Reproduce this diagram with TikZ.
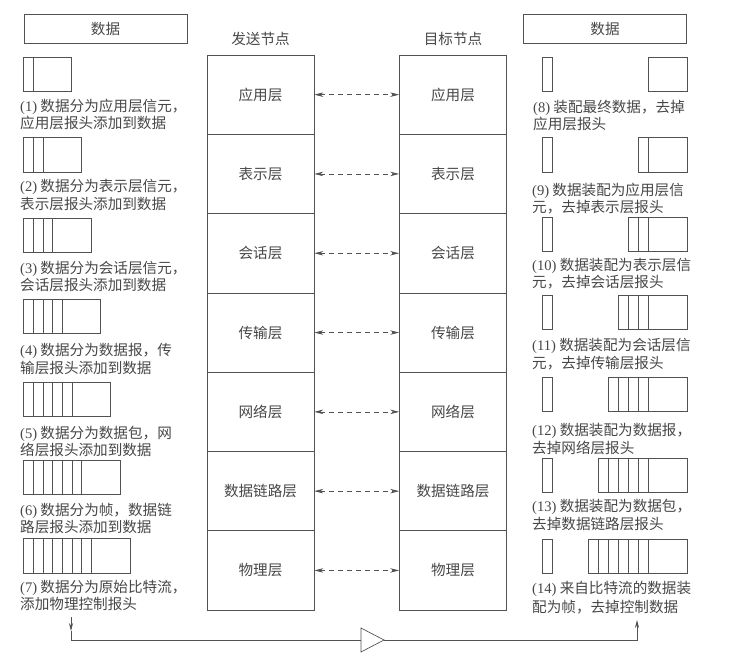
\documentclass[tikz,border=0pt]{standalone}
\usepackage{fontspec}
\setmainfont{Liberation Serif}
\newfontfamily\cjk{Noto Sans CJK SC}
\usetikzlibrary{arrows.meta}
\newcommand\stepno[1]{{\rmfamily #1}}
\colorlet{lncol}{black!68}
\colorlet{txtcol}{black!72}
\newcommand\capfont{\cjk\fontsize{14.6}{17}\selectfont}
% left frame: #1 top, #2 number of header strips
\newcommand\lframe[2]{%
  \draw[ln] (23.5,#1) rectangle ({23.5+9.7*#2+38.5},{#1+34.5});
  \foreach \i in {1,...,#2}{\draw[ln] ({23.5+9.7*\i},#1) -- ({23.5+9.7*\i},{#1+34.5});}
}
% right frame: #1 top, #2 number of header strips
\newcommand\rframe[2]{%
  \draw[ln] (542.5,#1) rectangle (552.5,{#1+34.5});
  \draw[ln] ({648-9.9*#2},#1) rectangle (687,{#1+34.5});
  \ifnum#2>0
  \foreach \i in {1,...,#2}{\draw[ln] ({648-9.9*(\i-1)},#1) -- ({648-9.9*(\i-1)},{#1+34.5});}
  \fi
}
\begin{document}
\begin{tikzpicture}[x=1pt,y=-1pt,
  ln/.style={draw=lncol,line width=0.7pt},
  layerbox/.style={draw=lncol,line width=0.7pt,minimum width=107pt,minimum height=79.3pt,inner sep=0pt,font=\capfont,text=txtcol},
  topbox/.style={draw=lncol,line width=0.7pt,minimum width=163pt,minimum height=29pt,inner sep=0pt,font=\capfont,text=txtcol},
  headtext/.style={inner sep=0pt,font=\capfont,text=txtcol},
  captext/.style={anchor=base west,inner sep=0pt,font=\capfont,text=txtcol},
  peer/.style={draw=lncol,line width=0.7pt,dash pattern=on 5pt off 4pt,{Stealth[length=9pt,width=4.5pt]}-{Stealth[length=9pt,width=4.5pt]}},
  flow/.style={draw=lncol,line width=0.7pt},
  flowtip/.style={draw=lncol,line width=0.7pt,-{Stealth[length=8pt,width=4pt]}}
]
\useasboundingbox (0,0) rectangle (732,658);

% top data boxes
\node[topbox] (dl) at (105.5,28.5) {数据};
\node[topbox] (dr) at (605,28.5) {数据};

% headings
\node[headtext] (hs) at (260.5,39) {发送节点};
\node[headtext] (hd) at (453,39) {目标节点};

% layer stacks
\foreach \n/\t [count=\k] in {1/应用层,2/表示层,3/会话层,4/传输层,5/网络层,6/数据链路层,7/物理层}{
  \node[layerbox] (L\n) at (260.5,{55+79.3*(\k-0.5)}) {\t};
  \node[layerbox] (R\n) at (453,{55+79.3*(\k-0.5)}) {\t};
}
\foreach \n in {1,...,7}{\draw[peer] (L\n.east) -- (R\n.west);}

% left frames
\lframe{57}{1}
\lframe{137.5}{2}
\lframe{218}{3}
\lframe{299}{4}
\lframe{382}{5}
\lframe{460}{6}
\lframe{538.5}{7}

% right frames
\rframe{57}{0}
\rframe{137.5}{1}
\rframe{217}{2}
\rframe{295}{3}
\rframe{377}{4}
\rframe{458}{5}
\rframe{539}{6}

% left captions
\node[captext] (c1a) at (20,111.5) {\stepno{(1)} 数据分为应用层信元，};
\node[captext] (c1b) at (20,128.5) {应用层报头添加到数据};
\node[captext] (c2a) at (20,191.5) {\stepno{(2)} 数据分为表示层信元，};
\node[captext] (c2b) at (20,210) {表示层报头添加到数据};
\node[captext] (c3a) at (20,273.5) {\stepno{(3)} 数据分为会话层信元，};
\node[captext] (c3b) at (20,290.5) {会话层报头添加到数据};
\node[captext] (c4a) at (20,355.5) {\stepno{(4)} 数据分为数据报，传};
\node[captext] (c4b) at (20,373) {输层报头添加到数据};
\node[captext] (c5a) at (20,438.5) {\stepno{(5)} 数据分为数据包，网};
\node[captext] (c5b) at (20,455.5) {络层报头添加到数据};
\node[captext] (c6a) at (20,515.5) {\stepno{(6)} 数据分为帧，数据链};
\node[captext] (c6b) at (20,532.5) {路层报头添加到数据};
\node[captext] (c7a) at (20,592.5) {\stepno{(7)} 数据分为原始比特流，};
\node[captext] (c7b) at (20,609.5) {添加物理控制报头};

% right captions
\node[captext] (c8a) at (533,112.5) {\stepno{(8)} 装配最终数据，去掉};
\node[captext] (c8b) at (533,129.5) {应用层报头};
\node[captext] (c9a) at (532,195.5) {\stepno{(9)} 数据装配为应用层信};
\node[captext] (c9b) at (532,212.5) {元，去掉表示层报头};
\node[captext] (c10a) at (532,270.5) {\stepno{(10)} 数据装配为表示层信};
\node[captext] (c10b) at (532,287.5) {元，去掉会话层报头};
\node[captext] (c11a) at (532,350.5) {\stepno{(11)} 数据装配为会话层信};
\node[captext] (c11b) at (532,368.5) {元，去掉传输层报头};
\node[captext] (c12a) at (532,435.5) {\stepno{(12)} 数据装配为数据报，};
\node[captext] (c12b) at (532,453.5) {去掉网络层报头};
\node[captext] (c13a) at (532,511.5) {\stepno{(13)} 数据装配为数据包，};
\node[captext] (c13b) at (532,529.5) {去掉数据链路层报头};
\node[captext] (c14a) at (532,593.5) {\stepno{(14)} 来自比特流的数据装};
\node[captext] (c14b) at (532,612) {配为帧，去掉控制数据};

% bottom transmission path
\coordinate (a0) at (71,617);
\coordinate (a1) at (71,631);
\coordinate (a2) at (71,640);
\coordinate (tin) at (361,640);
\coordinate (tout) at (384,640);
\coordinate (b2) at (637,640);
\coordinate (b1) at (637,620);
\draw[flowtip] (a0) -- (a1);
\draw[flow] (a1) -- (a2) -- (tin);
\draw[flow] (tin) -- +(0,-12) -- (tout) -- (361,652) -- cycle;
\draw[flowtip] (tout) -- (b2) -- (b1);
\end{tikzpicture}
\end{document}
